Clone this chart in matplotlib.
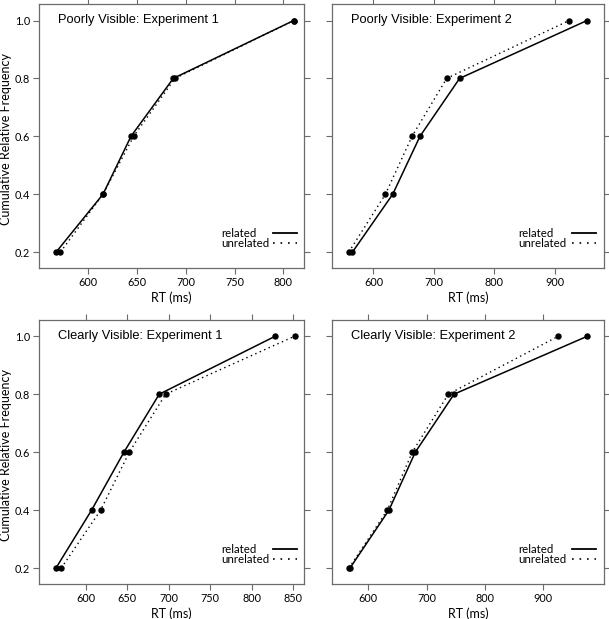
import matplotlib
matplotlib.use("Agg")
import matplotlib.pyplot as plt

# cumulative relative frequency levels (quintiles)
quantiles = [0.2, 0.4, 0.6, 0.8, 1.0]

# RT quantiles in ms
poor_exp1_related = [567.7, 615.6, 644.2, 687.4, 810.5]
poor_exp1_unrelated = [572.1, 615.6, 646.9, 689.1, 810.5]
poor_exp2_related = [565.3, 631.9, 676.9, 742.4, 953.0]
poor_exp2_unrelated = [559.3, 619.8, 663.8, 721.0, 923.5]
clear_exp1_related = [563.8, 606.8, 645.8, 688.4, 828.3]
clear_exp1_unrelated = [570.2, 617.7, 652.3, 696.1, 851.6]
clear_exp2_related = [568.6, 635.4, 680.6, 746.9, 975.4]
clear_exp2_unrelated = [566.9, 632.6, 675.4, 737.1, 925.7]

titles = ["Poorly Visible: Experiment 1", "Poorly Visible: Experiment 2",
          "Clearly Visible: Experiment 1", "Clearly Visible: Experiment 2"]
xticks = [[600, 650, 700, 750, 800], [600, 700, 800, 900],
          [600, 650, 700, 750, 800, 850], [600, 700, 800, 900]]
xlims = [(550.5, 821), (532, 981), (543.7, 863), (538.3, 1004)]
yticks = [0.2, 0.4, 0.6, 0.8, 1.0]
legend_labels = ["related", "unrelated"]

panels = [(poor_exp1_related, poor_exp1_unrelated),
          (poor_exp2_related, poor_exp2_unrelated),
          (clear_exp1_related, clear_exp1_unrelated),
          (clear_exp2_related, clear_exp2_unrelated)]

W, H = 609, 619
# axes boxes in pixels: left, top, right, bottom
boxes = [(39.3, 4.3, 304, 268.3), (332.3, 4.3, 604, 268.3),
         (39.3, 320, 304, 584.3), (332.3, 320, 604, 584.3)]

lab_font = "Lato"
title_font = "Liberation Sans"
frame_col = "#6b6b6b"
solid = "-"
dotted = (0, (1, 2.5))

fig = plt.figure(figsize=(W / 100, H / 100), dpi=100)

for i, (rel, unrel) in enumerate(panels):
    l, t, r, b = boxes[i]
    ax = fig.add_axes([l / W, 1 - b / H, (r - l) / W, (b - t) / H])
    ax.plot(rel, quantiles, color="black", lw=1.1, ls=solid,
            marker="o", ms=3.6, mfc="black", mec="black")
    ax.plot(unrel, quantiles, color="black", lw=1.0, ls=dotted,
            marker="o", ms=3.6, mfc="black", mec="black")
    ax.set_xlim(*xlims[i])
    ax.set_ylim(0.144, 1.056)
    ax.set_xticks(xticks[i])
    ax.set_yticks(yticks)
    ax.set_yticklabels([f"{v:.1f}" for v in yticks])
    ax.tick_params(direction="out", length=4, width=0.8, color=frame_col,
                   top=True, right=True, labeltop=False, labelright=False,
                   labelsize=7.8, pad=2.5)
    for lab in ax.get_xticklabels() + ax.get_yticklabels():
        lab.set_fontfamily(lab_font)
    for sp in ax.spines.values():
        sp.set_color(frame_col)
        sp.set_linewidth(0.9)
    if i % 2 == 1:
        ax.tick_params(labelleft=False)
    else:
        ax.set_ylabel("Cumulative Relative Frequency", fontsize=9,
                      family=lab_font)
        ax.yaxis.set_label_coords(-0.104, 0.49)
    ax.set_xlabel("RT (ms)", fontsize=9, family=lab_font, labelpad=2)
    ax.text(0.07, 0.94, titles[i], transform=ax.transAxes, fontsize=9.3,
            family=title_font, ha="left", va="center")

    # key in the lower right: label on the left, line sample on the right
    for k, (name, style) in enumerate(zip(legend_labels, [solid, (0, (1, 3.5))])):
        yk = 0.133 - k * 0.038
        ax.text(0.686, yk, name, transform=ax.transAxes, fontsize=8.3,
                family=lab_font, ha="left", va="center")
        ax.plot([0.882, 0.972], [yk, yk], transform=ax.transAxes,
                color="black", lw=1.3 if k == 0 else 1.2, ls=style)

fig.savefig("out.png", dpi=100)
